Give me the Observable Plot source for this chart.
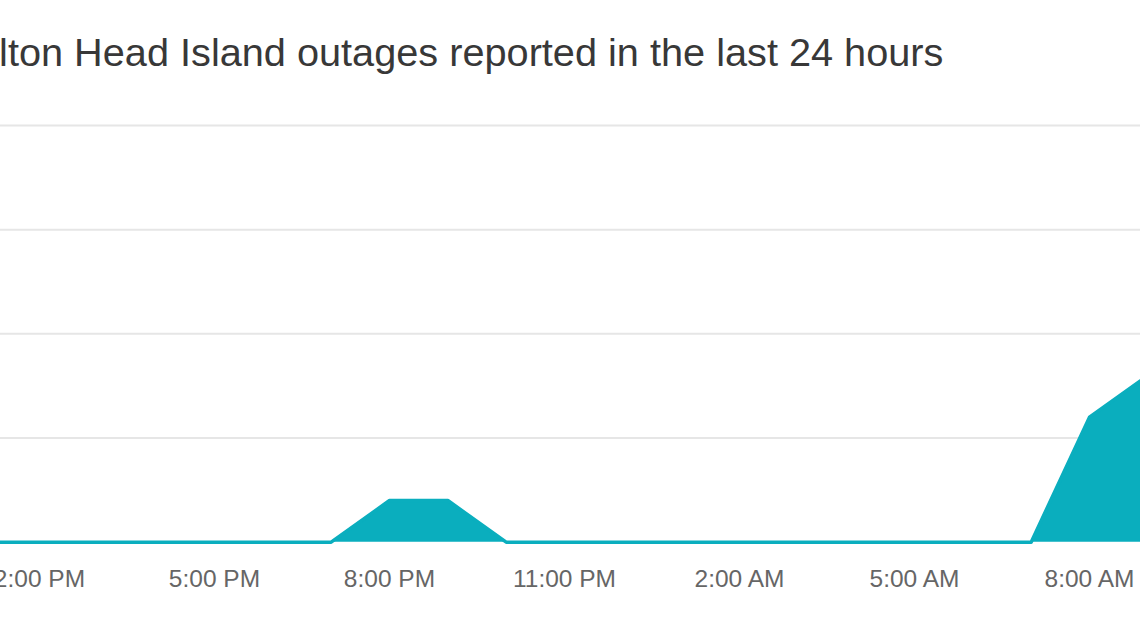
<!DOCTYPE html>
<html>
<head>
<meta charset="utf-8">
<script src="https://cdn.jsdelivr.net/npm/d3@7"></script>
<script src="https://cdn.jsdelivr.net/npm/@observablehq/plot@0.6"></script>
<style>
  html, body { margin: 0; padding: 0; background: #fff; width: 1140px; height: 641px; overflow: hidden; }
  #wrap { position: relative; width: 1140px; height: 641px; overflow: hidden; }
  #title { position: absolute; left: -38.4px; top: 33.1px; font-family: "Liberation Sans", Arial, sans-serif;
           font-size: 39.7px; line-height: 39.7px; color: #383838; white-space: nowrap; }
  #chart { position: absolute; left: -100px; top: 90px; width: 1400px; height: 551px; }
  #chart svg { max-width: none !important; }
</style>
</head>
<body>
<div id="wrap">
  <div id="title">Hilton Head Island outages reported in the last 24 hours</div>
  <div id="chart"></div>
</div>
<script>
// Hours (day 1 = 0..23, day 2 = 24..) and reported outages per hour
const hours   = [12, 13, 14, 15, 16, 17, 18, 19, 20, 21, 22, 23, 24, 25, 26, 27, 28, 29, 30, 31, 32, 33];
const reports = [ 0,  0,  0,  0,  0,  0,  0,  0,  2,  2,  0,  0,  0,  0,  0,  0,  0,  0,  0,  0,  6,  8];
const tickHours = [14, 17, 20, 23, 26, 29, 32];
const gridValues = [5, 10, 15, 20];
const yDomain = [0, 20];
const xDomainHours = [12, 34];

const base = new Date(2024, 0, 1, 0, 0, 0);
const toDate = h => new Date(base.getTime() + h * 3600 * 1000);
const data = hours.map((h, i) => ({time: toDate(h), value: reports[i]}));
const teal = "#0aaebe";
const fmt = d3.timeFormat("%-I:%M %p");

const chart = Plot.plot({
  width: 1400,
  height: 551,
  marginTop: 35,
  marginBottom: 99.3,
  marginLeft: 0,
  marginRight: 0,
  style: {fontFamily: "'Liberation Sans', Arial, sans-serif", fontSize: "24.5px", background: "transparent", maxWidth: "none"},
  x: {type: "time", domain: xDomainHours.map(toDate), range: [22.33, 1305.67], axis: null},
  y: {domain: yDomain, axis: null},
  marks: [
    Plot.gridY(gridValues, {stroke: "#e6e6e6", strokeOpacity: 1, strokeWidth: 2}),
    Plot.areaY(data, {x: "time", y: "value", fill: teal, fillOpacity: 1}),
    Plot.lineY(data, {x: "time", y: "value", stroke: teal, strokeWidth: 3.5}),
    Plot.axisX(tickHours.map(toDate), {tickSize: 0, tickPadding: 27, tickFormat: fmt, color: "#666", fontSize: 24.5})
  ]
});
document.getElementById("chart").appendChild(chart);
</script>
</body>
</html>
